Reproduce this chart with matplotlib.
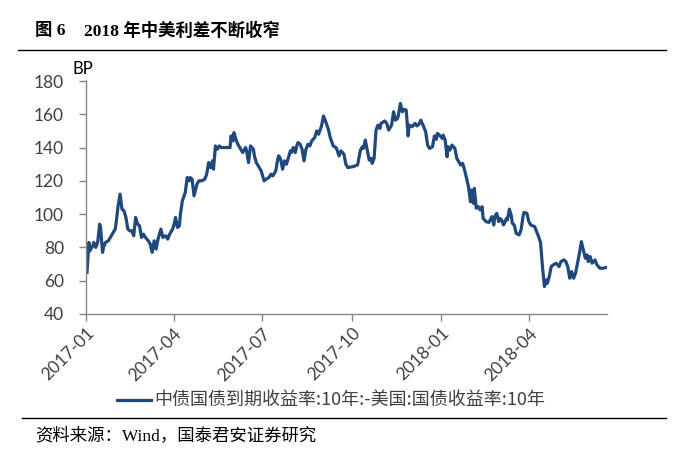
import numpy as np
import pandas as pd
import matplotlib
matplotlib.use('Agg')
import matplotlib.pyplot as plt
import matplotlib.dates as mdates
from matplotlib.lines import Line2D

plt.rcParams['font.family'] = ['Lato', 'Noto Sans CJK SC', 'DejaVu Sans']

# spread, BP; day = days after 2017-01-01
day = [1, 3, 4, 5, 7, 8, 10, 12, 14, 15, 17, 18, 20, 23, 26, 30, 31, 33, 35, 37,
       39, 41, 43, 45, 47, 49, 51, 53, 55, 57, 59, 61, 64, 66, 68, 70, 72, 74, 77, 79,
       82, 84, 86, 89, 91, 92, 94, 96, 97, 99, 102, 104, 106, 107, 109, 111, 114, 116, 119, 122,
       124, 126, 128, 130, 131, 133, 135, 137, 139, 144, 148, 149, 151, 152, 154, 156, 159, 161, 164, 165,
       167, 169, 172, 173, 175, 178, 180, 183, 185, 188, 190, 192, 195, 197, 198, 200, 202, 204, 206, 208,
       210, 211, 213, 215, 217, 218, 220, 222, 224, 226, 228, 230, 232, 235, 237, 239, 242, 244, 246, 249,
       251, 254, 257, 260, 262, 265, 267, 269, 274, 279, 282, 284, 285, 287, 289, 291, 293, 294, 296, 298,
       300, 302, 303, 307, 309, 311, 314, 316, 318, 320, 321, 323, 325, 327, 329, 331, 332, 335, 338, 340,
       342, 344, 347, 349, 351, 353, 356, 358, 360, 361, 364, 366, 367, 369, 371, 372, 374, 376, 379, 381,
       384, 385, 387, 389, 391, 393, 395, 396, 398, 399, 401, 403, 405, 407, 408, 411, 414, 417, 419, 420,
       422, 424, 425, 427, 429, 432, 433, 435, 437, 438, 440, 442, 445, 447, 449, 450, 453, 455, 457, 461,
       463, 465, 467, 469, 471, 473, 474, 476, 478, 480, 483, 486, 488, 491, 493, 495, 497, 499, 501, 503,
       505, 507, 509, 511, 513, 515, 516, 518, 520, 523, 525, 528, 531, 535]
spread = [65, 83, 78, 79, 81, 83, 80, 83, 94, 92, 77, 80, 83, 84, 87, 91, 95, 105, 112, 103,
          102, 98, 91, 90, 90, 87, 98, 94, 93, 86, 88, 86, 84, 82, 77, 84, 79, 85, 91, 86,
          87, 85, 88, 91, 95, 98, 92, 93, 100, 108, 113, 122, 120, 122, 121, 111, 118, 120, 120, 121,
          124, 131, 128, 132, 127, 141, 139, 141, 140, 140, 140, 147, 144, 149, 145, 142, 139, 137, 140, 138,
          131, 141, 139, 135, 131, 128, 126, 120, 121, 122, 124, 123, 126, 133, 135, 133, 127, 132, 130, 134,
          138, 137, 140, 137, 142, 143, 142, 139, 132, 139, 142, 141, 144, 146, 150, 148, 153, 159, 156, 151,
          146, 141, 140, 135, 138, 136, 130, 128, 128.5, 129.5, 138.5, 140.5, 139.5, 144.5, 138.5, 132.5, 133.5, 130.5, 133.5, 150.5,
          153.5, 151.5, 154.5, 156, 154.5, 150.5, 153.5, 161.5, 156.5, 157.5, 159.5, 166.5, 161.5, 163, 162.5, 147, 153.5, 152.5, 154.5, 153,
          154, 156.5, 152.5, 149.5, 141.5, 139.5, 140.5, 147, 145, 148.5, 147, 145.5, 147.5, 144.5, 134.5, 140.5, 138.5, 141.5, 139.5, 133.5,
          130.5, 129.5, 130.5, 126.5, 121.5, 116.5, 107.5, 114.5, 106.5, 115.5, 103.5, 104.5, 102.5, 104.5, 97.5, 95.5, 95, 98.5, 93.5, 98.5,
          100.5, 95.5, 97.5, 96.5, 93.5, 97.5, 96.5, 103, 99, 94.5, 93.5, 88.5, 87.5, 90.5, 98.5, 101, 100.5, 95.5, 93.5, 92.5,
          89.5, 86.5, 83, 68.5, 56.5, 60.5, 58.5, 62.5, 68.5, 69.5, 70.5, 68.5, 71.5, 72.5, 71.5, 68.5, 61.5, 65.5, 61.5, 64.5,
          70.5, 76.5, 83.5, 78.5, 73.5, 75.5, 71.5, 74.5, 70.5, 72.5, 69.5, 67.5, 67.5, 68]

dates = pd.Timestamp('2017-01-01') + pd.to_timedelta(day, unit='D')
series_name = '中债国债到期收益率:10年:-美国:国债收益率:10年'
tick_dates = pd.to_datetime(['2017-01-01', '2017-04-01', '2017-07-01', '2017-10-01',
                             '2018-01-01', '2018-04-01'])

blue = '#1F497D'
axis_gray = '#868686'
text_gray = '#404040'
serif_cjk = ['Liberation Serif', 'Noto Sans CJK SC', 'DejaVu Sans']

fig = plt.figure(figsize=(6.84, 4.58), dpi=100)
ax = fig.add_axes([86 / 684, 1 - 314 / 458, (606.7 - 86) / 684, (314 - 81) / 458])

ax.plot(dates, spread, color=blue, lw=2.3, solid_joinstyle='round')

ax.set_xlim(pd.Timestamp('2017-01-01'), pd.Timestamp('2017-01-01') + pd.Timedelta(days=535))
ax.set_ylim(40, 180)
ax.set_yticks(np.arange(40, 181, 20))
ax.set_xticks(tick_dates)
ax.xaxis.set_major_formatter(mdates.DateFormatter('%Y-%m'))

for s in ['top', 'right']:
    ax.spines[s].set_visible(False)
for s in ['left', 'bottom']:
    ax.spines[s].set_color(axis_gray)
    ax.spines[s].set_linewidth(1.0)
ax.tick_params(axis='both', colors=axis_gray, length=5, width=1.0,
               labelcolor=text_gray, labelsize=12.5)
ax.tick_params(axis='y', pad=11)
ax.tick_params(axis='x', pad=3)
for lab in ax.get_xticklabels():
    lab.set_rotation(45)
    lab.set_ha('right')
    lab.set_rotation_mode('anchor')

fig.text(73 / 684, 1 - 69 / 458, 'BP', fontsize=12, color='#000000', va='center')

# legend
leg_y = 1 - 400 / 458
fig.add_artist(Line2D([117 / 684, 151 / 684], [leg_y, leg_y], color=blue, lw=2.3))
fig.text(154 / 684, leg_y, series_name, fontsize=13, color=text_gray, va='center',
         family=['Noto Sans CJK SC', 'DejaVu Sans'])

# title and source frame
fig.text(35 / 684, 1 - 31 / 458, '图 6', fontsize=12.5, fontweight='bold',
         va='center', family=serif_cjk)
fig.text(84 / 684, 1 - 31 / 458, '2018 年中美利差不断收窄', fontsize=12.5, fontweight='bold',
         va='center', family=serif_cjk)
fig.add_artist(Line2D([18 / 684, 666 / 684], [1 - 50 / 458, 1 - 50 / 458], color='black', lw=1.0))
fig.add_artist(Line2D([22 / 684, 666 / 684], [1 - 418 / 458, 1 - 418 / 458], color='black', lw=1.0))
fig.text(35 / 684, 1 - 436 / 458, '资料来源：Wind，国泰君安证券研究', fontsize=12.5,
         va='center', family=serif_cjk)

fig.savefig('out.png', dpi=100)
